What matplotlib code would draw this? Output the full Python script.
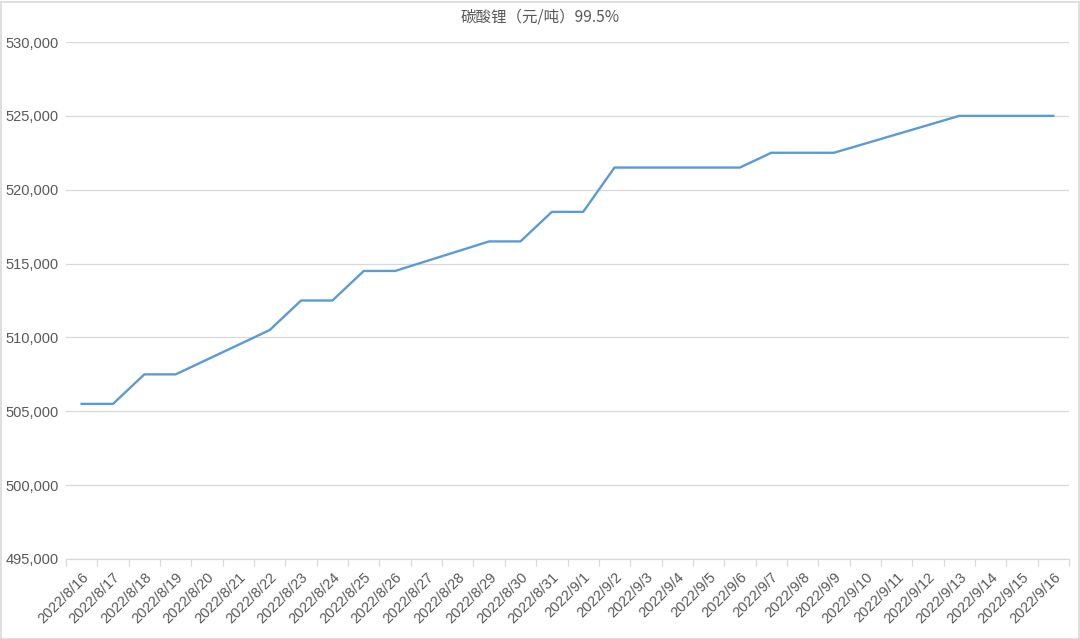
import numpy as np
import matplotlib
matplotlib.use("Agg")
import matplotlib.pyplot as plt
from matplotlib.patches import Rectangle

plt.rcParams['font.family'] = ['Liberation Sans', 'Noto Sans CJK SC', 'DejaVu Sans']

dates = ["2022/8/16", "2022/8/17", "2022/8/18", "2022/8/19", "2022/8/20", "2022/8/21",
         "2022/8/22", "2022/8/23", "2022/8/24", "2022/8/25", "2022/8/26", "2022/8/27",
         "2022/8/28", "2022/8/29", "2022/8/30", "2022/8/31", "2022/9/1", "2022/9/2",
         "2022/9/3", "2022/9/4", "2022/9/5", "2022/9/6", "2022/9/7", "2022/9/8",
         "2022/9/9", "2022/9/10", "2022/9/11", "2022/9/12", "2022/9/13", "2022/9/14",
         "2022/9/15", "2022/9/16"]
nan = np.nan
prices = [505500, 505500, 507500, 507500, nan, nan,
          510500, 512500, 512500, 514500, 514500, nan,
          nan, 516500, 516500, 518500, 518500, 521500,
          nan, nan, 521500, 521500, 522500, 522500,
          522500, nan, nan, nan, 525000, 525000,
          525000, 525000]
title = "碳酸锂（元/吨）99.5%"
yticks = [495000, 500000, 505000, 510000, 515000, 520000, 525000, 530000]

W, H = 1080, 639
fig = plt.figure(figsize=(W / 100, H / 100), dpi=100)
fig.patches.append(Rectangle((0.5 / W, 0.5 / H), 1 - 2 / W, 1 - 2.5 / H, transform=fig.transFigure,
                             fill=False, edgecolor='#d9d9d9', linewidth=1.2))
ax = fig.add_axes([66 / W, 1 - 559 / H, (1069 - 66) / W, (559 - 42) / H])

y = np.array(prices, dtype=float)
x = np.arange(len(dates))
mask = ~np.isnan(y)
ax.plot(x[mask], y[mask], color='#5b9bd5', linewidth=1.7, solid_joinstyle='round', zorder=3)

ax.set_xlim(-0.5, len(dates) - 0.5)
ax.set_ylim(495000, 530000)
ax.set_yticks(yticks)
ax.set_yticklabels([f"{v:,}" for v in yticks])
ax.grid(axis='y', color='#d9d9d9', linewidth=0.9)
ax.set_axisbelow(True)

ax.set_xticks(x)
ax.set_xticklabels(dates, rotation=45, ha='right', rotation_mode='anchor')
ax.set_xticks(np.arange(-0.5, len(dates), 1), minor=True)
ax.tick_params(axis='x', which='major', length=0, pad=8, labelsize=10.5, labelcolor='#595959')
ax.tick_params(axis='x', which='minor', length=5, color='#d9d9d9', width=0.9)
ax.tick_params(axis='y', length=0, pad=5, labelsize=10.5, labelcolor='#595959')

for s in ['top', 'right', 'left']:
    ax.spines[s].set_visible(False)
ax.spines['bottom'].set_color('#d9d9d9')
ax.spines['bottom'].set_linewidth(0.9)

fig.text(0.5, 1 - 17 / H, title, ha='center', va='center', fontsize=11.2, color='#595959',
         family=['Noto Sans CJK SC', 'DejaVu Sans'])

fig.savefig('out.png', dpi=100)
